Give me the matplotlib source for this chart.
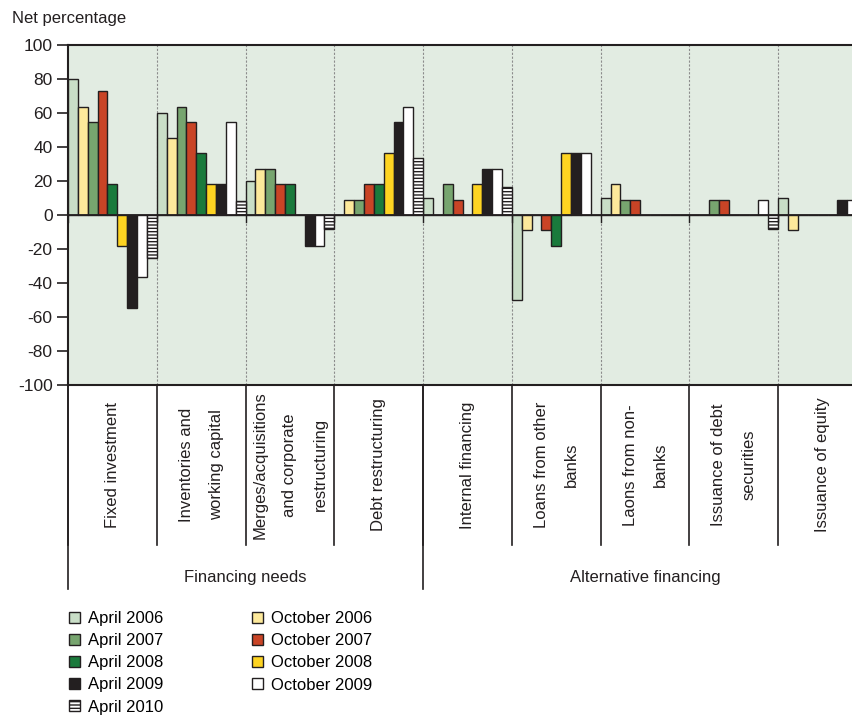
import matplotlib
matplotlib.use('Agg')
import matplotlib.pyplot as plt
import numpy as np
from matplotlib.patches import Patch
from matplotlib.transforms import blended_transform_factory

plt.rcParams['font.family'] = ['Liberation Sans', 'DejaVu Sans']
plt.rcParams['font.size'] = 12
plt.rcParams['hatch.linewidth'] = 1.0
plt.rcParams['axes.unicode_minus'] = False

# categories on the x axis (two groups)
categories = ['Fixed investment', 'Inventories and\nworking capital',
              'Merges/acquisitions\nand corporate\nrestructuring', 'Debt restructuring',
              'Internal financing', 'Loans from other\nbanks', 'Laons from non-\nbanks',
              'Issuance of debt\nsecurities', 'Issuance of equity']
groups = ['Financing needs', 'Alternative financing']
group_sizes = [4, 5]

# net percentages per survey round
apr06 = [80, 60, 20, 0, 10, -50, 10, 0, 10]
oct06 = [63.6, 45.5, 27.3, 9.1, 0, -9.1, 18.2, 0, -9.1]
apr07 = [54.5, 63.6, 27.3, 9.1, 18.2, 0, 9.1, 9.1, 0]
oct07 = [72.7, 54.5, 18.2, 18.2, 9.1, -9.1, 9.1, 9.1, 0]
apr08 = [18.2, 36.4, 18.2, 18.2, 0, -18.2, 0, 0, 0]
oct08 = [-18.2, 18.2, 0, 36.4, 18.2, 36.4, 0, 0, 0]
apr09 = [-54.5, 18.2, -18.2, 54.5, 27.3, 36.4, 0, 0, 9.1]
oct09 = [-36.4, 54.5, -18.2, 63.6, 27.3, 36.4, 0, 9.1, 9.1]
apr10 = [-25, 8.3, -8.3, 33.3, 16.7, 0, 0, -8.3, 0]

series = [
    ('April 2006', apr06, '#c9dec7', None),
    ('October 2006', oct06, '#fde99b', None),
    ('April 2007', apr07, '#77a56f', None),
    ('October 2007', oct07, '#c94426', None),
    ('April 2008', apr08, '#1a7a3c', None),
    ('October 2008', oct08, '#fed422', None),
    ('April 2009', apr09, '#231f20', None),
    ('October 2009', oct09, '#ffffff', None),
    ('April 2010', apr10, '#ffffff', '-----'),
]

dark = '#231f20'
bg = '#e2ece2'

fig = plt.figure(figsize=(8.53, 7.16), dpi=100)
# the plot runs past the right edge, like the cropped original
ax = fig.add_axes([68/853, 1 - 385/716, (867 - 68)/853, 340/716])
ax.set_facecolor(bg)

ncat = len(categories)
w = 1.0 / len(series)
x = np.arange(ncat)
for j, (lab, vals, col, hatch) in enumerate(series):
    ax.bar(x + (j + 0.5) * w, vals, width=w, color=col, edgecolor=dark,
           linewidth=1.0, hatch=hatch, zorder=3)

# dotted separators inside the plot
for b in range(1, ncat):
    ax.axvline(b, color='#8c8c8c', lw=0.8, ls=(0, (2, 1.5)), zorder=1)

ax.axhline(0, color=dark, lw=1.3, zorder=4)
for b in range(ncat):
    ax.plot([b, b], [0, -4], color=dark, lw=1.0, zorder=4)

ax.set_xlim(0, ncat)
ax.set_ylim(-100, 100)
ax.set_yticks(range(-100, 101, 20))
ax.set_xticks([])
ax.tick_params(axis='y', direction='out', length=8, width=1.2, color=dark,
               pad=3, labelsize=12.5, labelcolor=dark)
for s in ax.spines.values():
    s.set_color(dark)
    s.set_linewidth(1.5)

# multi-level category axis below the plot
trans = blended_transform_factory(ax.transData, ax.transAxes)
for b in range(ncat):
    ax.plot([b, b], [0, -0.47], color=dark, lw=1.2, transform=trans, clip_on=False)
for i, cat in enumerate(categories):
    ax.text(i + 0.5, -0.235, cat, rotation=90, ha='center', va='center',
            multialignment='center', linespacing=2.25, fontsize=12,
            color=dark, transform=trans)

start = 0
for g, size in zip(groups, group_sizes):
    ax.plot([start, start], [0, -0.6], color=dark, lw=1.2, transform=trans, clip_on=False)
    ax.text(start + size / 2, -0.565, g, ha='center', va='center', fontsize=12,
            color=dark, transform=trans)
    start += size

fig.text(12/853, 1 - 18/716, 'Net percentage', ha='left', va='center',
         fontsize=12, color=dark)

order = [0, 2, 4, 6, 8, 1, 3, 5, 7]
handles = [Patch(facecolor=series[k][2], edgecolor=dark, linewidth=1.0,
                 hatch=series[k][3], label=series[k][0]) for k in order]
fig.legend(handles=handles, ncol=2, loc='upper left',
           bbox_to_anchor=(69/853, 1 - 611/716), frameon=False,
           borderpad=0, borderaxespad=0, handlelength=0.65, handleheight=0.65,
           handletextpad=0.5, labelspacing=0.43, columnspacing=5.3, fontsize=12)

fig.savefig('out.png', dpi=100)
